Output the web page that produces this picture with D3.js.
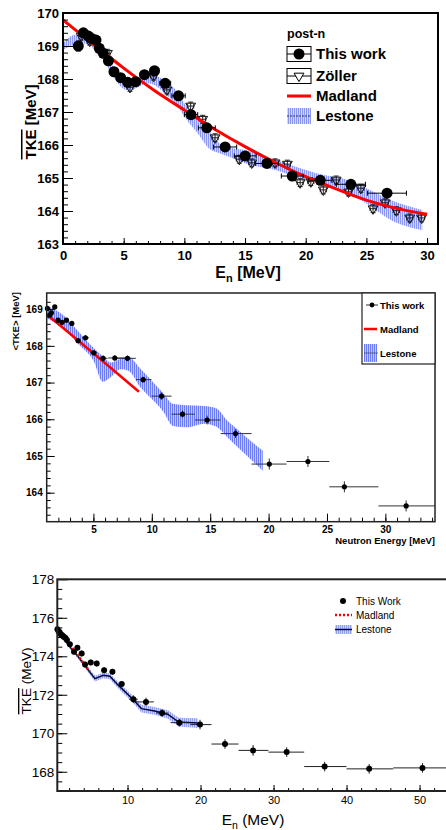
<!DOCTYPE html>
<html>
<head>
<meta charset="utf-8">
<script src="https://d3js.org/d3.v7.min.js"></script>
<style>
	body { margin: 0; background: #fff; }
	svg { display: block; }
</style>
</head>
<body>
<div id="chart"></div>
<script>
/* ---------- PANEL 1 : post-n TKE ---------- */
var p1WorkEn = [ 1.26, 1.68, 2.09, 2.36, 2.72, 2.99, 3.32, 3.74, 4.2, 4.75, 5.33, 5.99, 6.71, 7.54, 8.42, 9.52, 10.55, 11.85, 13.36, 15.01, 16.8, 18.89, 21.2, 23.72, 26.7 ];
var p1WorkTke = [ 169.0, 169.4, 169.3, 169.23, 169.18, 168.93, 168.78, 168.55, 168.22, 168.04, 167.9, 167.92, 168.13, 168.25, 167.87, 167.49, 166.92, 166.52, 165.94, 165.67, 165.44, 165.06, 164.93, 164.81, 164.54 ];
var p1WorkTkeErr = [ 0.15, 0.08, 0.08, 0.08, 0.08, 0.08, 0.08, 0.08, 0.08, 0.08, 0.08, 0.08, 0.08, 0.08, 0.08, 0.08, 0.08, 0.08, 0.08, 0.08, 0.08, 0.08, 0.08, 0.08, 0.08 ];
var p1WorkEnErr = [ 0.12, 0.12, 0.12, 0.12, 0.12, 0.12, 0.12, 0.12, 0.12, 0.12, 0.12, 0.12, 0.3, 0.35, 0.45, 0.55, 0.55, 0.7, 0.95, 0.9, 0.95, 0.9, 0.95, 1.2, 1.6 ];

var p1ZollerEn = [ 1.5, 2.2, 2.9, 3.66, 5.52, 7.46, 8.56, 10.52, 11.51, 12.53, 14.53, 15.55, 17.48, 18.49, 19.54, 20.42, 21.45, 22.51, 23.53, 24.55, 25.55, 26.55, 27.47, 28.57, 29.55 ];
var p1ZollerTke = [ 169.3, 169.15, 168.95, 168.78, 167.75, 168.09, 167.67, 167.18, 166.78, 166.22, 165.57, 165.46, 165.46, 165.42, 164.86, 164.89, 164.64, 164.94, 164.58, 164.69, 164.07, 164.25, 164.01, 163.79, 163.79 ];
var p1ZollerTkeErr = [ 0.12, 0.12, 0.12, 0.12, 0.12, 0.12, 0.12, 0.12, 0.12, 0.12, 0.12, 0.12, 0.12, 0.12, 0.12, 0.12, 0.12, 0.12, 0.12, 0.12, 0.12, 0.12, 0.12, 0.12, 0.12 ];
var p1ZollerEnErr = [ 0.2, 0.2, 0.2, 0.2, 0.25, 0.25, 0.25, 0.25, 0.25, 0.25, 0.25, 0.25, 0.25, 0.25, 0.25, 0.25, 0.25, 0.25, 0.25, 0.25, 0.25, 0.25, 0.25, 0.25, 0.25 ];

var p1MadEn = [ 0, 2.5, 5, 7.5, 10, 12.5, 15, 17.5, 20, 22.5, 25, 27.5, 30 ];
var p1MadTke = [ 169.79, 169.05, 168.33, 167.66, 167.06, 166.48, 165.95, 165.47, 165.04, 164.67, 164.33, 164.08, 163.9 ];

var p1LesEn = [ 0, 0.85, 1.68, 2.5, 3.33, 4.15, 5.25, 6.07, 6.9, 7.7, 8.5, 9.3, 10.1, 11.2, 12.0, 12.9, 14.0, 15, 17.5, 20, 21.5, 23, 25, 27, 29.6 ];
var p1LesLo = [ 168.88, 169.03, 169.08, 168.93, 168.58, 168.07, 167.67, 167.73, 167.87, 167.78, 167.52, 167.26, 166.81, 166.3, 165.9, 165.75, 165.6, 165.45, 165.24, 164.94, 164.84, 164.64, 164.23, 163.73, 163.42 ];
var p1LesHi = [ 169.08, 169.33, 169.38, 169.18, 168.83, 168.37, 168.02, 168.02, 168.17, 168.1, 167.92, 167.67, 167.21, 166.76, 166.45, 166.05, 165.9, 165.85, 165.55, 165.24, 165.09, 164.99, 164.69, 164.33, 164.03 ];

var p1XTicks = [ 0, 5, 10, 15, 20, 25, 30 ];
var p1YTicks = [ 163, 164, 165, 166, 167, 168, 169, 170 ];

/* ---------- PANEL 2 : <TKE> vs neutron energy ---------- */
var p2WorkEn = [ 1.06, 1.26, 1.40, 1.69, 1.97, 2.32, 2.69, 3.15, 3.69, 4.32, 5.03, 5.83, 6.83, 7.92, 9.26, 10.83, 12.63, 14.74, 17.17, 20.06, 23.37, 26.49, 31.78 ];
var p2WorkTke = [ 169.02, 168.84, 168.9, 169.06, 168.7, 168.64, 168.7, 168.61, 168.14, 168.22, 167.81, 167.66, 167.67, 167.66, 167.08, 166.63, 166.14, 165.98, 165.61, 164.78, 164.85, 164.16, 163.64 ];
var p2WorkTkeErr = [ 0.05, 0.05, 0.05, 0.05, 0.05, 0.05, 0.06, 0.06, 0.06, 0.07, 0.07, 0.08, 0.08, 0.08, 0.08, 0.1, 0.1, 0.12, 0.12, 0.15, 0.15, 0.15, 0.15 ];
var p2WorkEnLo = [ 0.96, 1.16, 1.3, 1.59, 1.82, 2.17, 2.5, 2.95, 3.45, 4.02, 4.7, 5.45, 6.26, 6.97, 8.63, 9.97, 11.69, 13.69, 15.89, 18.54, 21.54, 25.2, 29.4 ];
var p2WorkEnHi = [ 1.16, 1.36, 1.5, 1.79, 2.12, 2.47, 2.88, 3.35, 3.93, 4.62, 5.36, 6.21, 7.69, 8.63, 9.97, 11.69, 13.69, 15.89, 18.54, 21.54, 25.2, 29.4, 34.25 ];

var p2MadEn = [ 1.0, 5.0, 8.9 ];
var p2MadTke = [ 168.86, 167.8, 166.75 ];

var p2LesEn = [ 1.0, 2.4, 3.8, 5.0, 5.8, 6.5, 7.3, 8.0, 9.0, 10.0, 11.0, 11.8, 13.0, 14.5, 15.5, 16.5, 17.5, 18.5, 19.5 ];
var p2LesHi = [ 169.1, 168.84, 168.36, 167.95, 167.72, 167.55, 167.65, 167.7, 167.38, 167.05, 166.7, 166.42, 166.38, 166.36, 166.3, 165.95, 165.68, 165.4, 165.15 ];
var p2LesLo = [ 168.75, 168.47, 168.02, 167.6, 167.02, 167.15, 167.36, 167.32, 166.88, 166.55, 166.2, 165.82, 165.78, 165.88, 165.8, 165.5, 165.2, 164.9, 164.6 ];

var p2XTicks = [ 5, 10, 15, 20, 25, 30 ];
var p2YTicks = [ 164, 165, 166, 167, 168, 169 ];

/* ---------- PANEL 3 : TKE (MeV) up to 50 MeV ---------- */
var p3WorkEn = [ 0.4, 0.55, 0.7, 0.85, 1.0, 1.15, 1.3, 1.5, 1.7, 2.1, 2.67, 3.13, 3.72, 4.18, 4.96, 5.78, 6.79, 7.93, 9.2, 10.8, 12.53, 14.73, 17.1, 19.93, 23.35, 27.2, 31.8, 37.0, 43.1, 50.4 ];
var p3WorkTke = [ 175.4, 175.3, 175.25, 175.15, 175.1, 175.05, 175.0, 174.95, 174.85, 174.62, 174.23, 174.44, 174.15, 173.57, 173.68, 173.62, 173.28, 173.19, 172.56, 171.77, 171.63, 171.05, 170.55, 170.45, 169.44, 169.11, 169.02, 168.27, 168.15, 168.2 ];
var p3WorkTkeErr = [ 0.1, 0.1, 0.1, 0.1, 0.1, 0.1, 0.1, 0.1, 0.1, 0.1, 0.15, 0.15, 0.15, 0.15, 0.15, 0.15, 0.15, 0.15, 0.15, 0.2, 0.22, 0.2, 0.2, 0.25, 0.25, 0.28, 0.25, 0.25, 0.25, 0.25 ];
var p3WorkEnLo = [ 0.35, 0.5, 0.65, 0.8, 0.95, 1.1, 1.25, 1.45, 1.6, 1.95, 2.5, 2.95, 3.5, 3.95, 4.7, 5.5, 6.5, 7.6, 8.8, 10.2, 11.0, 13.9, 15.9, 18.6, 21.5, 25.2, 29.3, 34.2, 40.0, 46.4 ];
var p3WorkEnHi = [ 0.45, 0.6, 0.75, 0.9, 1.05, 1.2, 1.35, 1.55, 1.8, 2.25, 2.85, 3.3, 3.95, 4.4, 5.2, 6.05, 7.1, 8.25, 9.6, 11.4, 13.6, 15.6, 18.3, 21.5, 25.2, 29.3, 34.2, 40.0, 46.4, 56 ];

var p3MadEn = [ 0.4, 2.4, 4.8 ];
var p3MadTke = [ 175.4, 174.45, 173.22 ];

var p3LesEn = [ 0.4, 1.9, 3.3, 4.63, 5.54, 6.68, 7.58, 8.72, 10.77, 11.9, 13.7, 15.55, 17.0, 19.65 ];
var p3LesTke = [ 175.4, 174.58, 173.95, 173.28, 172.84, 173.01, 172.96, 172.5, 171.75, 171.28, 171.16, 170.98, 170.58, 170.53 ];
var p3LesErr = [ 0.08, 0.1, 0.12, 0.14, 0.15, 0.15, 0.15, 0.17, 0.18, 0.2, 0.2, 0.22, 0.23, 0.25 ];

var p3XTicks = [ 10, 20, 30, 40, 50 ];
var p3YTicks = [ 168, 170, 172, 174, 176, 178 ];

var ARIAL = "'Liberation Sans', Arial, sans-serif";

var svg = d3.select( "#chart" ).append( "svg" )
	.attr( "width", 446 )
	.attr( "height", 830 );
var defs = svg.append( "defs" );

// hatch patterns for the Lestone bands
function makeHatch( id, bg, fg, step ) {
	var p = defs.append( "pattern" )
		.attr( "id", id )
		.attr( "patternUnits", "userSpaceOnUse" )
		.attr( "width", step )
		.attr( "height", 4 );
	p.append( "rect" ).attr( "width", step ).attr( "height", 4 ).attr( "fill", bg );
	p.append( "line" )
		.attr( "x1", 0.5 ).attr( "x2", 0.5 )
		.attr( "y1", 0 ).attr( "y2", 4 )
		.attr( "stroke", fg ).attr( "stroke-width", 1 );
}
makeHatch( "hatch1", "#d3d7fa", "#8c97f0", 2 );
makeHatch( "hatch2", "#c2c9f8", "#6d7cf0", 2 );
makeHatch( "hatch3", "#d0d5fa", "#93a0f2", 2 );

// ticks that point into the frame (ROOT style)
function inTicks( g, maker, scale, at, values, len, labels, pad ) {
	var ax = maker( scale ).tickValues( values ).tickSizeInner( -len ).tickSizeOuter( 0 ).tickPadding( pad );
	if ( !labels ) ax.tickFormat( "" );
	else ax.tickFormat( d3.format( "d" ) );
	var a = g.append( "g" ).attr( "transform", at ).call( ax );
	a.select( ".domain" ).remove();
	a.selectAll( "line" ).attr( "stroke", "#000" );
	return a;
}

function errorBars( g, x, y, en, tke, tkeErr, enLo, enHi, color, cap ) {
	var idx = d3.range( en.length );
	var eb = g.append( "g" ).attr( "stroke", color ).attr( "stroke-width", 1 ).attr( "fill", "none" );
	eb.selectAll( "line.h" ).data( idx ).join( "line" ).attr( "class", "h" )
		.attr( "x1", function ( i ) { return x( enLo[ i ] ); } )
		.attr( "x2", function ( i ) { return x( enHi[ i ] ); } )
		.attr( "y1", function ( i ) { return y( tke[ i ] ); } )
		.attr( "y2", function ( i ) { return y( tke[ i ] ); } );
	eb.selectAll( "line.v" ).data( idx ).join( "line" ).attr( "class", "v" )
		.attr( "x1", function ( i ) { return x( en[ i ] ); } )
		.attr( "x2", function ( i ) { return x( en[ i ] ); } )
		.attr( "y1", function ( i ) { return y( tke[ i ] - tkeErr[ i ] ); } )
		.attr( "y2", function ( i ) { return y( tke[ i ] + tkeErr[ i ] ); } );
	if ( cap ) {
		[ -1, 1 ].forEach( function ( s ) {
			eb.selectAll( "line.c" + s ).data( idx ).join( "line" ).attr( "class", "c" + s )
				.attr( "x1", function ( i ) { return x( en[ i ] ) - cap; } )
				.attr( "x2", function ( i ) { return x( en[ i ] ) + cap; } )
				.attr( "y1", function ( i ) { return y( tke[ i ] + s * tkeErr[ i ] ); } )
				.attr( "y2", function ( i ) { return y( tke[ i ] + s * tkeErr[ i ] ); } );
			eb.selectAll( "line.e" + s ).data( idx ).join( "line" ).attr( "class", "e" + s )
				.attr( "x1", function ( i ) { return x( s < 0 ? enLo[ i ] : enHi[ i ] ); } )
				.attr( "x2", function ( i ) { return x( s < 0 ? enLo[ i ] : enHi[ i ] ); } )
				.attr( "y1", function ( i ) { return y( tke[ i ] ) - cap; } )
				.attr( "y2", function ( i ) { return y( tke[ i ] ) + cap; } );
		} );
	}
}

/* ===== PANEL 1 ===== */
var x1 = d3.scaleLinear().domain( [ 0, 30.9 ] ).range( [ 63, 438 ] ),
	y1 = d3.scaleLinear().domain( [ 163, 170 ] ).range( [ 244, 13 ] );
var g1 = svg.append( "g" );

// Lestone band
g1.append( "path" )
	.datum( d3.range( p1LesEn.length ) )
	.attr( "fill", "url(#hatch1)" )
	.attr( "d", d3.area()
		.x( function ( i ) { return x1( p1LesEn[ i ] ); } )
		.y0( function ( i ) { return y1( p1LesLo[ i ] ); } )
		.y1( function ( i ) { return y1( p1LesHi[ i ] ); } )
		.curve( d3.curveMonotoneX ) );

// Zöller
var p1ZLo = p1ZollerEn.map( function ( e, i ) { return e - p1ZollerEnErr[ i ]; } ),
	p1ZHi = p1ZollerEn.map( function ( e, i ) { return e + p1ZollerEnErr[ i ]; } );
errorBars( g1, x1, y1, p1ZollerEn, p1ZollerTke, p1ZollerTkeErr, p1ZLo, p1ZHi, "#222", 2.5 );
g1.selectAll( "path.zol" ).data( d3.range( p1ZollerEn.length ) ).join( "path" )
	.attr( "class", "zol" )
	.attr( "d", d3.symbol( d3.symbolTriangle, 42 ) )
	.attr( "transform", function ( i ) { return "translate(" + x1( p1ZollerEn[ i ] ) + "," + y1( p1ZollerTke[ i ] ) + ") rotate(180)"; } )
	.attr( "fill", "none" )
	.attr( "stroke", "#111" )
	.attr( "stroke-width", 1 );

// Madland
g1.append( "path" )
	.datum( d3.range( p1MadEn.length ) )
	.attr( "fill", "none" )
	.attr( "stroke", "#f00" )
	.attr( "stroke-width", 3 )
	.attr( "d", d3.line()
		.x( function ( i ) { return x1( p1MadEn[ i ] ); } )
		.y( function ( i ) { return y1( p1MadTke[ i ] ); } )
		.curve( d3.curveMonotoneX ) );

// this work
var p1WLo = p1WorkEn.map( function ( e, i ) { return e - p1WorkEnErr[ i ]; } ),
	p1WHi = p1WorkEn.map( function ( e, i ) { return e + p1WorkEnErr[ i ]; } );
errorBars( g1, x1, y1, p1WorkEn, p1WorkTke, p1WorkTkeErr, p1WLo, p1WHi, "#000", 2.5 );
g1.selectAll( "circle.work" ).data( d3.range( p1WorkEn.length ) ).join( "circle" )
	.attr( "class", "work" )
	.attr( "cx", function ( i ) { return x1( p1WorkEn[ i ] ); } )
	.attr( "cy", function ( i ) { return y1( p1WorkTke[ i ] ); } )
	.attr( "r", 5.5 )
	.attr( "fill", "#000" );

// axes
var a1x = inTicks( g1, d3.axisBottom, x1, "translate(0,244)", p1XTicks, 6, true, 7 );
inTicks( g1, d3.axisBottom, x1, "translate(0,244)", d3.range( 1, 31 ), 3, false, 0 );
var a1y = inTicks( g1, d3.axisLeft, y1, "translate(63,0)", p1YTicks, 10, true, 4 );
inTicks( g1, d3.axisLeft, y1, "translate(63,0)", d3.range( 163.2, 170, 0.2 ), 5, false, 0 );
[ a1x, a1y ].forEach( function ( a ) {
	a.attr( "font-family", ARIAL ).attr( "font-size", 13 ).attr( "font-weight", "bold" );
} );
g1.append( "rect" )
	.attr( "x", 63 ).attr( "y", 13 ).attr( "width", 375 ).attr( "height", 231 )
	.attr( "fill", "none" ).attr( "stroke", "#000" ).attr( "stroke-width", 2 );

// axis titles
var t1y = g1.append( "text" )
	.attr( "transform", "translate(36,122) rotate(-90)" )
	.attr( "text-anchor", "middle" )
	.attr( "font-family", ARIAL ).attr( "font-size", 15 ).attr( "font-weight", "bold" );
t1y.append( "tspan" ).style( "text-decoration", "overline" ).text( "TKE" );
t1y.append( "tspan" ).text( " [MeV]" );
var t1x = g1.append( "text" )
	.attr( "x", 248 ).attr( "y", 278 )
	.attr( "text-anchor", "middle" )
	.attr( "font-family", ARIAL ).attr( "font-size", 16 ).attr( "font-weight", "bold" );
t1x.append( "tspan" ).text( "E" );
t1x.append( "tspan" ).attr( "font-size", 11 ).attr( "dy", 4 ).text( "n" );
t1x.append( "tspan" ).attr( "dy", -4 ).text( " [MeV]" );

// legend
var l1 = g1.append( "g" ).attr( "font-family", ARIAL ).attr( "font-weight", "bold" );
l1.append( "text" ).attr( "x", 287 ).attr( "y", 38 ).attr( "font-size", 12.5 ).text( "post-n" );
var l1Names = [ "This work", "Zöller", "Madland", "Lestone" ];
var l1Rows = [ 54, 76, 96, 116 ];
l1.selectAll( "text.lab" ).data( l1Names ).join( "text" )
	.attr( "class", "lab" )
	.attr( "x", 316 )
	.attr( "y", function ( d, i ) { return l1Rows[ i ] + 5; } )
	.attr( "font-size", 15 )
	.text( function ( d ) { return d; } );
[ 0, 1 ].forEach( function ( i ) {
	l1.append( "rect" ).attr( "x", 287 ).attr( "y", l1Rows[ i ] - 7.5 ).attr( "width", 24 ).attr( "height", 15 )
		.attr( "fill", "none" ).attr( "stroke", "#000" ).attr( "stroke-width", 1 );
	l1.append( "line" ).attr( "x1", 287 ).attr( "x2", 311 ).attr( "y1", l1Rows[ i ] ).attr( "y2", l1Rows[ i ] )
		.attr( "stroke", "#000" );
} );
l1.append( "circle" ).attr( "cx", 299 ).attr( "cy", l1Rows[ 0 ] ).attr( "r", 5.5 ).attr( "fill", "#000" );
l1.append( "path" ).attr( "d", d3.symbol( d3.symbolTriangle, 42 ) )
	.attr( "transform", "translate(299," + l1Rows[ 1 ] + ") rotate(180)" )
	.attr( "fill", "#fff" ).attr( "stroke", "#000" );
l1.append( "line" ).attr( "x1", 287 ).attr( "x2", 311 ).attr( "y1", l1Rows[ 2 ] ).attr( "y2", l1Rows[ 2 ] )
	.attr( "stroke", "#f00" ).attr( "stroke-width", 3 );
l1.append( "rect" ).attr( "x", 287 ).attr( "y", l1Rows[ 3 ] - 8 ).attr( "width", 24 ).attr( "height", 16 )
	.attr( "fill", "url(#hatch1)" );
l1.append( "line" ).attr( "x1", 287 ).attr( "x2", 311 ).attr( "y1", l1Rows[ 3 ] ).attr( "y2", l1Rows[ 3 ] )
	.attr( "stroke", "#334" ).attr( "stroke-dasharray", "2,1" );

/* ===== PANEL 2 ===== */
var x2 = d3.scaleLinear().domain( [ 1, 34.25 ] ).range( [ 46.7, 435 ] ),
	y2 = d3.scaleLinear().domain( [ 163.21, 169.44 ] ).range( [ 521.7, 293 ] );
var g2 = svg.append( "g" );

g2.append( "path" )
	.datum( d3.range( p2LesEn.length ) )
	.attr( "fill", "url(#hatch2)" )
	.attr( "d", d3.area()
		.x( function ( i ) { return x2( p2LesEn[ i ] ); } )
		.y0( function ( i ) { return y2( p2LesLo[ i ] ); } )
		.y1( function ( i ) { return y2( p2LesHi[ i ] ); } )
		.curve( d3.curveMonotoneX ) );

g2.append( "path" )
	.datum( d3.range( p2MadEn.length ) )
	.attr( "fill", "none" )
	.attr( "stroke", "#f00" )
	.attr( "stroke-width", 2.5 )
	.attr( "d", d3.line()
		.x( function ( i ) { return x2( p2MadEn[ i ] ); } )
		.y( function ( i ) { return y2( p2MadTke[ i ] ); } ) );

errorBars( g2, x2, y2, p2WorkEn, p2WorkTke, p2WorkTkeErr, p2WorkEnLo, p2WorkEnHi, "#333", 0 );
g2.selectAll( "circle.work" ).data( d3.range( p2WorkEn.length ) ).join( "circle" )
	.attr( "class", "work" )
	.attr( "cx", function ( i ) { return x2( p2WorkEn[ i ] ); } )
	.attr( "cy", function ( i ) { return y2( p2WorkTke[ i ] ); } )
	.attr( "r", 2.6 )
	.attr( "fill", "#000" );

var a2x = inTicks( g2, d3.axisBottom, x2, "translate(0,521.7)", p2XTicks, 8, true, 4 );
inTicks( g2, d3.axisBottom, x2, "translate(0,521.7)", d3.range( 2, 35 ), 4, false, 0 );
var a2y = inTicks( g2, d3.axisLeft, y2, "translate(46.7,0)", p2YTicks, 8, true, 4 );
inTicks( g2, d3.axisLeft, y2, "translate(46.7,0)", d3.range( 163.4, 169.4, 0.2 ), 4, false, 0 );
[ a2x, a2y ].forEach( function ( a ) {
	a.attr( "font-family", ARIAL ).attr( "font-size", 10 ).attr( "font-weight", "bold" );
} );
g2.append( "rect" )
	.attr( "x", 46.7 ).attr( "y", 293 ).attr( "width", 388.3 ).attr( "height", 228.7 )
	.attr( "fill", "none" ).attr( "stroke", "#222" ).attr( "stroke-width", 1.5 );

g2.append( "text" )
	.attr( "transform", "translate(18.5,292) rotate(-90)" )
	.attr( "text-anchor", "end" )
	.attr( "font-family", ARIAL ).attr( "font-size", 9.5 ).attr( "font-weight", "bold" )
	.text( "<TKE> [MeV]" );
g2.append( "text" )
	.attr( "x", 435 ).attr( "y", 544 )
	.attr( "text-anchor", "end" )
	.attr( "font-family", ARIAL ).attr( "font-size", 9.5 ).attr( "font-weight", "bold" )
	.text( "Neutron Energy [MeV]" );

// legend box
var l2 = g2.append( "g" ).attr( "font-family", ARIAL ).attr( "font-weight", "bold" ).attr( "font-size", 9.5 );
l2.append( "rect" ).attr( "x", 362 ).attr( "y", 293 ).attr( "width", 73 ).attr( "height", 71 )
	.attr( "fill", "#fff" ).attr( "stroke", "#222" ).attr( "stroke-width", 1.2 );
var l2Names = [ "This work", "Madland", "Lestone" ];
var l2Rows = [ 305, 329, 353 ];
l2.selectAll( "text" ).data( l2Names ).join( "text" )
	.attr( "x", 380 )
	.attr( "y", function ( d, i ) { return l2Rows[ i ] + 3.5; } )
	.text( function ( d ) { return d; } );
l2.append( "line" ).attr( "x1", 366 ).attr( "x2", 378 ).attr( "y1", l2Rows[ 0 ] ).attr( "y2", l2Rows[ 0 ] ).attr( "stroke", "#333" );
l2.append( "circle" ).attr( "cx", 372 ).attr( "cy", l2Rows[ 0 ] ).attr( "r", 2.4 ).attr( "fill", "#000" );
l2.append( "line" ).attr( "x1", 364 ).attr( "x2", 377 ).attr( "y1", l2Rows[ 1 ] ).attr( "y2", l2Rows[ 1 ] )
	.attr( "stroke", "#f00" ).attr( "stroke-width", 2.5 );
l2.append( "rect" ).attr( "x", 364 ).attr( "y", 344 ).attr( "width", 13 ).attr( "height", 18 ).attr( "fill", "url(#hatch2)" );
l2.append( "line" ).attr( "x1", 364 ).attr( "x2", 378 ).attr( "y1", l2Rows[ 2 ] ).attr( "y2", l2Rows[ 2 ] ).attr( "stroke", "#445" ).attr( "stroke-width", 0.8 );

/* ===== PANEL 3 ===== */
var x3 = d3.scaleLinear().domain( [ 0.38, 54.5 ] ).range( [ 57.3, 452.4 ] ),
	y3 = d3.scaleLinear().domain( [ 167, 178 ] ).range( [ 791, 579.3 ] );
var g3 = svg.append( "g" );

var p3Idx = d3.range( p3LesEn.length );
g3.append( "path" )
	.datum( p3Idx )
	.attr( "fill", "url(#hatch3)" )
	.attr( "d", d3.area()
		.x( function ( i ) { return x3( p3LesEn[ i ] ); } )
		.y0( function ( i ) { return y3( p3LesTke[ i ] - p3LesErr[ i ] ); } )
		.y1( function ( i ) { return y3( p3LesTke[ i ] + p3LesErr[ i ] ); } ) );
g3.append( "path" )
	.datum( p3Idx )
	.attr( "fill", "none" )
	.attr( "stroke", "#0a0a30" )
	.attr( "stroke-width", 1.5 )
	.attr( "d", d3.line()
		.x( function ( i ) { return x3( p3LesEn[ i ] ); } )
		.y( function ( i ) { return y3( p3LesTke[ i ] ); } ) );

g3.append( "path" )
	.datum( d3.range( p3MadEn.length ) )
	.attr( "fill", "none" )
	.attr( "stroke", "#f00" )
	.attr( "stroke-width", 2.5 )
	.attr( "stroke-dasharray", "2,2" )
	.attr( "d", d3.line()
		.x( function ( i ) { return x3( p3MadEn[ i ] ); } )
		.y( function ( i ) { return y3( p3MadTke[ i ] ); } ) );

errorBars( g3, x3, y3, p3WorkEn, p3WorkTke, p3WorkTkeErr, p3WorkEnLo, p3WorkEnHi, "#222", 0 );
g3.selectAll( "circle.work" ).data( d3.range( p3WorkEn.length ) ).join( "circle" )
	.attr( "class", "work" )
	.attr( "cx", function ( i ) { return x3( p3WorkEn[ i ] ); } )
	.attr( "cy", function ( i ) { return y3( p3WorkTke[ i ] ); } )
	.attr( "r", 3 )
	.attr( "fill", "#000" );

var a3x = inTicks( g3, d3.axisBottom, x3, "translate(0,791)", p3XTicks, 6, true, 5 );
inTicks( g3, d3.axisBottom, x3, "translate(0,791)", d3.range( 2, 55, 2 ), 3, false, 0 );
var a3y = inTicks( g3, d3.axisLeft, y3, "translate(57.3,0)", p3YTicks, 10, true, 3 );
inTicks( g3, d3.axisLeft, y3, "translate(57.3,0)", d3.range( 167.5, 178, 0.5 ), 5, false, 0 );
a3x.attr( "font-family", ARIAL ).attr( "font-size", 11 );
a3y.attr( "font-family", ARIAL ).attr( "font-size", 13.5 );
g3.append( "rect" )
	.attr( "x", 57.3 ).attr( "y", 579.3 ).attr( "width", 420 ).attr( "height", 211.7 )
	.attr( "fill", "none" ).attr( "stroke", "#222" ).attr( "stroke-width", 2 );

var t3y = g3.append( "text" )
	.attr( "transform", "translate(31,681) rotate(-90)" )
	.attr( "text-anchor", "middle" )
	.attr( "font-family", ARIAL ).attr( "font-size", 13.5 );
t3y.append( "tspan" ).style( "text-decoration", "overline" ).text( "TKE" );
t3y.append( "tspan" ).text( " (MeV)" );
var t3x = g3.append( "text" )
	.attr( "x", 253 ).attr( "y", 825 )
	.attr( "text-anchor", "middle" )
	.attr( "font-family", ARIAL ).attr( "font-size", 15.5 );
t3x.append( "tspan" ).text( "E" );
t3x.append( "tspan" ).attr( "font-size", 10.5 ).attr( "dy", 4 ).text( "n" );
t3x.append( "tspan" ).attr( "dy", -4 ).text( " (MeV)" );

var l3 = g3.append( "g" ).attr( "font-family", ARIAL ).attr( "font-size", 10 );
var l3Names = [ "This Work", "Madland", "Lestone" ];
var l3Rows = [ 601, 615, 629.5 ];
l3.selectAll( "text" ).data( l3Names ).join( "text" )
	.attr( "x", 356 )
	.attr( "y", function ( d, i ) { return l3Rows[ i ] + 3.5; } )
	.text( function ( d ) { return d; } );
l3.append( "circle" ).attr( "cx", 343 ).attr( "cy", l3Rows[ 0 ] ).attr( "r", 3 ).attr( "fill", "#000" );
l3.append( "line" ).attr( "x1", 335 ).attr( "x2", 352 ).attr( "y1", l3Rows[ 1 ] ).attr( "y2", l3Rows[ 1 ] )
	.attr( "stroke", "#f00" ).attr( "stroke-width", 2.5 ).attr( "stroke-dasharray", "2,2" );
l3.append( "rect" ).attr( "x", 335 ).attr( "y", 625 ).attr( "width", 17 ).attr( "height", 9 ).attr( "fill", "url(#hatch3)" );
l3.append( "line" ).attr( "x1", 335 ).attr( "x2", 352 ).attr( "y1", l3Rows[ 2 ] ).attr( "y2", l3Rows[ 2 ] )
	.attr( "stroke", "#0a0a30" ).attr( "stroke-width", 1.5 );
</script>
</body>
</html>
